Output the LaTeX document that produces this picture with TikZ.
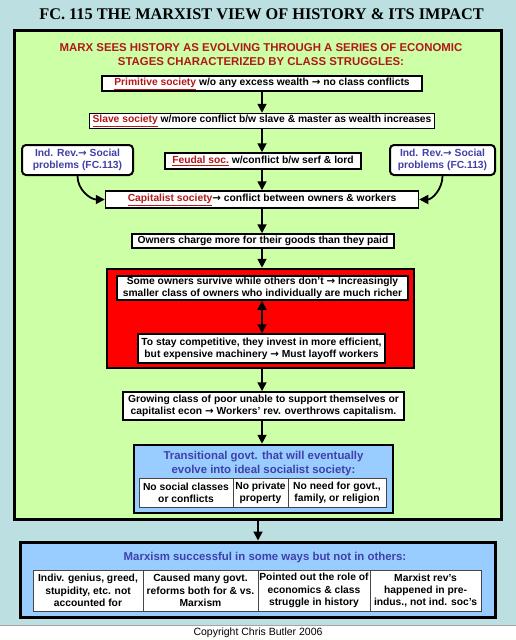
\documentclass[tikz,border=0pt]{standalone}
\usepackage{fontspec}
\setmainfont{Liberation Sans}
\newfontfamily\titlefont{Liberation Serif}
\newfontfamily\arrfont{DejaVu Sans}
\usetikzlibrary{arrows.meta,calc}
\definecolor{bgblue}{RGB}{188,224,226}
\definecolor{lgreen}{RGB}{204,255,166}
\definecolor{boxblue}{RGB}{153,204,255}
\definecolor{dred}{RGB}{178,24,24}
\definecolor{tblue}{RGB}{64,64,170}
\definecolor{cellline}{RGB}{70,70,70}
\newcommand{\rarr}{{\arrfont\bfseries →}}
\newcommand{\redul}[1]{\textcolor{dred}{\underline{#1}}}
\newcommand{\fs}{\fontsize{10.3}{12.2}\selectfont\bfseries}
\newcommand{\hfs}{\fontsize{11.4}{14}\selectfont\bfseries}
\tikzset{
  box/.style={draw=black, line width=1.5pt, fill=white, inner sep=0pt, align=center, font=\fs},
  rbox/.style={box, rounded corners=4pt, line width=2pt, text=tblue},
  cell/.style={draw=cellline, line width=1pt, fill=white, inner sep=0pt, align=center, font=\fs},
  frame/.style={draw=black, inner sep=0pt},
  arr/.style={line width=1.8pt, -{Triangle[width=9pt,length=9pt]}},
  darr/.style={line width=1.8pt, {Triangle[width=9pt,length=9pt]}-{Triangle[width=9pt,length=9pt]}},
  hdr/.style={inner sep=0pt, align=center, font=\hfs},
}
\begin{document}
\begin{tikzpicture}[x=1pt,y=-1pt]
\useasboundingbox (0,0) rectangle (516,640);
\fill[bgblue] (0,0) rectangle (516,626);
\draw[gray!70, line width=1pt] (0,625.5) -- (516,625.5);
\node[inner sep=0pt, font=\titlefont\bfseries\fontsize{16.3}{18}\selectfont] (title) at (261.5,14) {FC. 115 THE MARXIST VIEW OF HISTORY \& ITS IMPACT};
\node[frame, line width=3pt, fill=lgreen, minimum width=487, minimum height=489] (green) at (257.5,274.5) {};
\node[hdr, text=dred] (hd1) at (261,48) {MARX SEES HISTORY AS EVOLVING THROUGH A SERIES OF ECONOMIC};
\node[hdr, text=dred] (hd2) at (261,62) {STAGES CHARACTERIZED BY CLASS STRUGGLES:};
\node[box, minimum width=320, minimum height=15] (prim) at (262,83.5) {\redul{Primitive society} w/o any excess wealth \rarr{} no class conflicts};
\node[box, minimum width=345, minimum height=15] (slave) at (262,121) {\redul{Slave society} w/more conflict b/w slave \& master as wealth increases};
\node[box, minimum width=196, minimum height=16] (feud) at (263,161) {\redul{Feudal soc.} w/conflict b/w serf \& lord};
\node[rbox, minimum width=111, minimum height=30] (indl) at (77.5,160) {Ind. Rev.\rarr{} Social\\problems (FC.113)};
\node[rbox, minimum width=105, minimum height=30] (indr) at (442.5,160) {Ind. Rev.\rarr{} Social\\problems (FC.113)};
\node[box, minimum width=313, minimum height=17] (cap) at (262,199.5) {\redul{Capitalist society}\rarr{} conflict between owners \& workers};
\node[box, minimum width=262, minimum height=14] (own) at (263,241) {Owners charge more for their goods than they paid};
\node[frame, line width=2.5pt, fill=red, minimum width=307, minimum height=99] (redb) at (260.5,318.5) {};
\node[box, minimum width=291, minimum height=24] (surv) at (262.5,288) {Some owners survive while others don't \rarr{} Increasingly\\smaller class of owners who individually are much richer};
\node[box, minimum width=247, minimum height=29] (comp) at (261.5,348.5) {To stay competitive, they invest in more efficient,\\but expensive machinery \rarr{} Must layoff workers};
\node[box, minimum width=281, minimum height=28] (grow) at (263.5,406) {Growing class of poor unable to support themselves or\\capitalist econ \rarr{} Workers' rev. overthrows capitalism.};
\node[frame, line width=2.5pt, fill=boxblue, minimum width=259, minimum height=68] (trans) at (263.5,479) {};
\node[hdr, text=tblue] (transhd) at (263.5,464) {Transitional govt. that will eventually\\evolve into ideal socialist society:};
\node[cell, minimum width=94, minimum height=29] (t1) at (186,492.5) {No social classes\\or conflicts};
\node[cell, minimum width=55, minimum height=29] (t2) at (260.5,492.5) {No private\\property};
\node[cell, minimum width=98, minimum height=29] (t3) at (337,492.5) {No need for govt.,\\family, or religion};
\node[frame, line width=3pt, fill=boxblue, minimum width=475, minimum height=75] (final) at (258,579.5) {};
\node[hdr, text=tblue] (finhd) at (265,558) {Marxism successful in some ways but not in others:};
\node[cell, minimum width=110, minimum height=41] (c1) at (88,590.5) {Indiv. genius, greed,\\stupidity, etc. not\\accounted for};
\node[cell, minimum width=115, minimum height=41] (c2) at (200.5,590.5) {Caused many govt.\\reforms both for \& vs.\\Marxism};
\node[cell, minimum width=112, minimum height=41] (c3) at (314,590.5) {Pointed out the role of\\economics \& class\\struggle in history};
\node[cell, minimum width=111, minimum height=41] (c4) at (425.5,590.5) {Marxist rev's\\happened in pre-\\indus., not ind. soc's};
\node[inner sep=0pt, font=\fontsize{10.5}{12}\selectfont] (copy) at (258,633) {Copyright Chris Butler 2006};
% connectors
\draw[arr] (prim.south) -- (prim.south |- slave.north);
\draw[arr] (prim.south |- slave.south) -- (prim.south |- feud.north);
\draw[arr] (prim.south |- feud.south) -- (prim.south |- cap.north);
\draw[arr] (prim.south |- cap.south) -- (prim.south |- own.north);
\draw[arr] (prim.south |- own.south) -- (prim.south |- redb.north);
\draw[darr] (prim.south |- surv.south) -- (prim.south |- comp.north);
\draw[arr] (prim.south |- redb.south) -- (prim.south |- grow.north);
\draw[arr] (prim.south |- grow.south) -- (prim.south |- trans.north);
\draw[arr] (final.north |- green.south) -- (final.north);
\draw[arr] (indl.south) to[out=-90,in=180] (cap.west);
\draw[arr] (indr.south) to[out=-90,in=0] (cap.east);
\end{tikzpicture}
\end{document}
